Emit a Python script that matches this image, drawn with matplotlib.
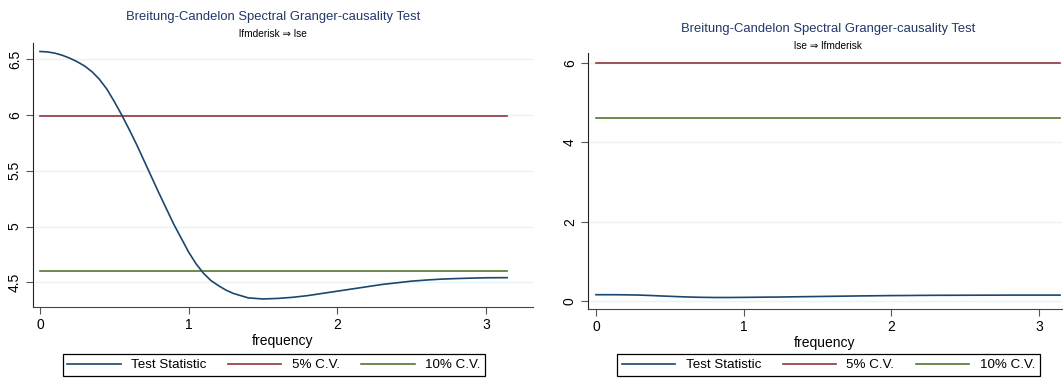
import numpy as np
import matplotlib

matplotlib.use('agg')
import matplotlib.pyplot as plt

plt.rcParams['font.family'] = ['Liberation Sans', 'DejaVu Sans']

# frequencies (0 .. pi)
freq = [0.0, 0.05, 0.1, 0.15, 0.2, 0.25, 0.3, 0.35, 0.4, 0.45, 0.5, 0.55,
        0.6, 0.65, 0.7, 0.8, 0.9, 1.0, 1.05, 1.1, 1.15, 1.2, 1.25, 1.3,
        1.4, 1.5, 1.6, 1.7, 1.8, 1.9, 2.0, 2.1, 2.2, 2.3, 2.4, 2.5, 2.6,
        2.7, 2.8, 2.9, 3.0, 3.1, 3.1416]

# lfmderisk => lse
stat_left = [6.57, 6.566, 6.555, 6.536, 6.51, 6.478, 6.44, 6.388, 6.32,
             6.232, 6.12, 6.00, 5.87, 5.735, 5.59, 5.30, 5.02, 4.77, 4.665,
             4.58, 4.515, 4.47, 4.43, 4.40, 4.36, 4.35, 4.355, 4.365, 4.38,
             4.40, 4.42, 4.44, 4.46, 4.48, 4.495, 4.51, 4.52, 4.528, 4.533,
             4.537, 4.54, 4.541, 4.541]

# lse => lfmderisk
stat_right = [0.16, 0.16, 0.16, 0.159, 0.157, 0.154, 0.15, 0.143, 0.135,
              0.127, 0.12, 0.112, 0.105, 0.1, 0.095, 0.09, 0.09, 0.093,
              0.095, 0.097, 0.099, 0.10, 0.102, 0.105, 0.11, 0.115, 0.12,
              0.125, 0.13, 0.134, 0.138, 0.14, 0.143, 0.145, 0.146, 0.147,
              0.148, 0.149, 0.15, 0.15, 0.15, 0.15, 0.15]

cv5 = 5.991
cv10 = 4.605

left_yticks = [4.5, 5, 5.5, 6, 6.5]
left_ylabels = ['4.5', '5', '5.5', '6', '6.5']
right_yticks = [0, 2, 4, 6]
right_ylabels = ['0', '2', '4', '6']
xticks = [0, 1, 2, 3]

NAVY = '#1a476f'
MAROON = '#90353b'
GREEN = '#55752f'
GRID = '#eaf2f3'
TITLE = '#22376a'

fig = plt.figure(figsize=(10.63, 3.8), dpi=100)


def draw_panel(rect, stat, yticks, ylabels, ylim, xlim, title_xy, subtitle, legend_xy):
    ax = fig.add_axes(rect)
    for y in yticks:
        ax.axhline(y, color=GRID, lw=1.0, zorder=0)
    ax.plot(freq, stat, color=NAVY, lw=1.2, label='Test Statistic', zorder=3)
    ax.plot([freq[0], freq[-1]], [cv5, cv5], color=MAROON, lw=1.2, label='5% C.V.', zorder=2)
    ax.plot([freq[0], freq[-1]], [cv10, cv10], color=GREEN, lw=1.2, label='10% C.V.', zorder=2)
    ax.set_xlim(*xlim)
    ax.set_ylim(*ylim)
    ax.set_xticks(xticks)
    ax.set_xticklabels([str(t) for t in xticks])
    ax.set_yticks(yticks)
    ax.set_yticklabels(ylabels, rotation=90, va='center')
    ax.spines['top'].set_visible(False)
    ax.spines['right'].set_visible(False)
    ax.spines['left'].set_color('#222222')
    ax.spines['bottom'].set_color('#444444')
    ax.tick_params(direction='out', length=5, width=0.8, color='#555555',
                   labelsize=10, pad=3)
    ax.set_xlabel('frequency', fontsize=10, labelpad=1)
    fig.text(title_xy[0] / 1063, 1 - title_xy[1] / 380,
             'Breitung-Candelon Spectral Granger-causality Test',
             ha='center', va='center', fontsize=9.4, color=TITLE)
    fig.text(title_xy[0] / 1063, 1 - (title_xy[1] + 17) / 380, subtitle,
             ha='center', va='center', fontsize=7.3, color='black')
    leg = fig.legend(handles=ax.get_lines()[-3:], loc='center',
                     bbox_to_anchor=(legend_xy[0] / 1063, 1 - legend_xy[1] / 380),
                     ncol=3, fontsize=9.6, handlelength=4.0, handletextpad=0.8,
                     columnspacing=1.6, borderpad=0.35, fancybox=False,
                     framealpha=1, edgecolor='black')
    leg.get_frame().set_linewidth(0.9)
    return ax


draw_panel([33 / 1063, 1 - 307 / 380, 500 / 1063, 264 / 380],
           stat_left, left_yticks, left_ylabels, (4.278, 6.646), (-0.047, 3.316),
           (273, 17), 'lfmderisk \u21d2 lse', (274, 365))

draw_panel([588 / 1063, 1 - 309 / 380, 474 / 1063, 256 / 380],
           stat_right, right_yticks, right_ylabels, (-0.2, 6.25), (-0.054, 3.155),
           (828, 29), 'lse \u21d2 lfmderisk', (828.5, 365))

fig.savefig('out.png', dpi=100, facecolor='white')
